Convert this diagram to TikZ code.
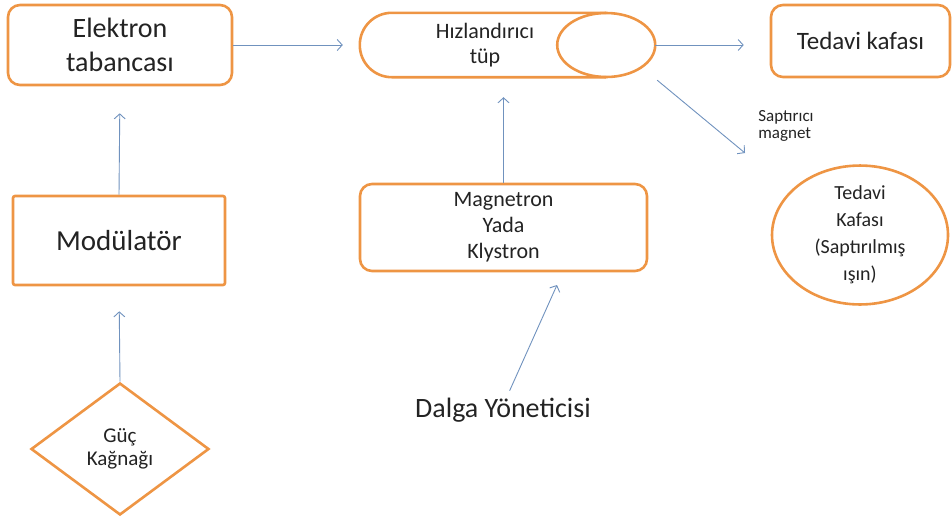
\documentclass[tikz,border=0pt]{standalone}
\usepackage{fontspec}
\setmainfont{Carlito}
\usetikzlibrary{positioning, shapes.geometric, arrows.meta}
\definecolor{boxOrange}{RGB}{238,149,68}
\definecolor{arrowBlue}{RGB}{112,146,190}
\definecolor{textGray}{RGB}{35,35,35}
\tikzstyle{canvas} = [x = 1pt, y = -1pt]
\tikzstyle{boxLine} = [draw=boxOrange, line width=2.6pt, fill=white, text=textGray, align=center, inner sep=0pt]
\tikzstyle{roundBox} = [boxLine, rounded corners = 12pt]
\tikzstyle{squareBox} = [boxLine, rounded corners = 2pt]
\tikzstyle{flowArrow} = [draw=arrowBlue, line width=0.9pt, -{Straight Barb[length=5pt, width=11pt]}]
\tikzstyle{bigText} = [text=textGray, align=center, font=\fontsize{28}{34}\selectfont]
\tikzstyle{midText} = [text=textGray, align=center, font=\fontsize{22}{26}\selectfont]
\tikzstyle{smallText} = [text=textGray, align=left, font=\fontsize{17}{17}\selectfont]

\begin{document}
\begin{tikzpicture}[canvas]
        \useasboundingbox (0,0) rectangle (952,520);

        % top row
        \node [roundBox, bigText, minimum width=224pt, minimum height=80pt] (gun) at (120,45) {Elektron\\tabancası};
        \node [minimum width=295pt, minimum height=64pt, inner sep=0pt] (tube) at (507.5,45) {};
        \draw [boxOrange, line width=2.6pt, rounded corners=32pt] ([xshift=-49pt]tube.north east) -- (tube.north west) -- (tube.south west) -- ([xshift=-49pt]tube.south east);
        \draw [boxOrange, line width=2.6pt] ([xshift=-49pt]tube.east) ellipse [x radius=49pt, y radius=32pt];
        \node [midText, font=\fontsize{22}{25}\selectfont] (tubeLabel) at (485,45) {Hızlandırıcı\\tüp};
        \node [roundBox, bigText, font=\fontsize{25}{30}\selectfont, minimum width=179pt, minimum height=72pt] (head) at (860.5,41) {Tedavi kafası};

        % middle row
        \node [squareBox, bigText, font=\fontsize{29}{34}\selectfont, minimum width=212pt, minimum height=89pt] (modulator) at (119,240.5) {Modülatör};
        \node [roundBox, midText, minimum width=287pt, minimum height=87pt] (magnetron) at (503.5,227.5) {Magnetron\\Yada\\Klystron};
        \node [smallText] (deflectLabel) at (786,126) {Saptırıcı\\magnet};
        \node [boxLine, ellipse, font=\fontsize{20}{27}\selectfont, minimum width=176pt, minimum height=118pt] (deflected) at (860,235) {Tedavi\\Kafası\\(Saptırılmış\\ışın)};

        % bottom row
        \node [boxLine, diamond, font=\fontsize{21}{23}\selectfont, minimum width=178pt, minimum height=132pt] (power) at (120,449) {Güç\\Kağnağı};
        \node [bigText] (wave) at (503,410) {Dalga Yöneticisi};

        \coordinate (deflectTip) at (745,153);
        \coordinate (waveTip) at (557,285);

        % connectors
        \draw [flowArrow, shorten >=17pt] (gun.east) -- (gun.east -| tube.west);
        \draw [flowArrow, shorten >=26pt] (tube.east) -- (tube.east -| head.west);
        \draw [flowArrow] ([xshift=2pt, yshift=-3pt]tube.south east) -- (deflectTip);
        \draw [flowArrow, shorten >=20pt] (magnetron.north) -- (magnetron.north |- tube.south);
        \draw [flowArrow, shorten >=27pt] (modulator.north) -- (gun.south);
        \draw [flowArrow, shorten >=25pt] (power.north) -- (modulator.south);
        \draw [flowArrow, shorten <=4pt] ([xshift=5pt]wave.north) -- (waveTip);
      \end{tikzpicture}
\end{document}
